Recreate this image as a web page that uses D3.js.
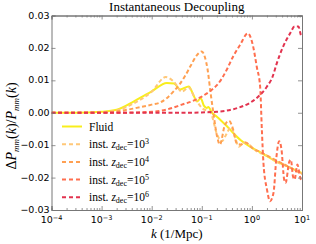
<!DOCTYPE html>
<html>
<head>
<meta charset="utf-8">
<script src="https://cdn.jsdelivr.net/npm/d3@7"></script>
<style>
  body { margin: 0; background: #fff; }
  svg { display: block; }
</style>
</head>
<body>
<div id="chart"></div>
<script>
// values (k in 1/Mpc, y = dP/P)
let fluid_k = [1e-4, 3e-4, 1e-3, 2e-3, 4.5e-3, 0.01, 0.02, 0.028, 0.037, 0.055, 0.065, 0.08, 0.095, 0.11, 0.125, 0.135, 0.16, 0.2, 0.3, 0.42, 0.6, 0.9, 1.4, 2, 3, 4.3, 6.5, 10]
let fluid_v = [0, 0, 0.0003, 0.0009, 0.0036, 0.0066, 0.0092, 0.009, 0.0072, 0.0081, 0.0062, 0.0035, 0.0045, 0.0022, 0.0015, 0.0018, 0, -0.0012, -0.0038, -0.0062, -0.0085, -0.0104, -0.012, -0.0134, -0.015, -0.016, -0.0173, -0.0186]

let dec3_k = [1e-4, 3e-4, 1e-3, 2e-3, 4.5e-3, 0.01, 0.019, 0.028, 0.04, 0.055, 0.07, 0.1, 0.15, 0.2, 0.25, 0.3, 0.38, 0.47, 0.55, 0.7, 0.9, 1.2, 2, 3, 5, 7, 10]
let dec3_v = [0, 0, 0.0002, 0.0007, 0.003, 0.0065, 0.011, 0.0095, 0.0065, 0.0078, 0.005, 0.0015, 0, -0.0065, -0.0088, -0.007, -0.0045, -0.008, -0.0105, -0.0092, -0.0100, -0.0117, -0.0132, -0.015, -0.0165, -0.0176, -0.0187]

let dec4_k = [1e-4, 1e-3, 2e-3, 5e-3, 0.01, 0.015, 0.02, 0.027, 0.035, 0.045, 0.06, 0.08, 0.1, 0.115, 0.13, 0.15, 0.17, 0.2, 0.23, 0.29, 0.35, 0.42, 0.5, 0.6, 0.75, 1, 1.5, 2.5, 4, 6, 10]
let dec4_v = [0, 0.0001, 0.0004, 0.0015, 0.0025, 0.0032, 0.0045, 0.0065, 0.0085, 0.011, 0.0145, 0.0178, 0.0189, 0.0172, 0.0135, 0.006, 0, -0.007, -0.0098, -0.0037, -0.0025, -0.005, -0.0095, -0.0098, -0.0092, -0.0108, -0.0122, -0.014, -0.0156, -0.017, -0.0189]

let dec5_k = [1e-4, 2e-3, 5e-3, 0.01, 0.02, 0.04, 0.07, 0.1, 0.15, 0.2, 0.25, 0.32, 0.42, 0.58, 0.83, 1.06, 1.25, 1.46, 1.58, 1.7, 2.0, 2.3, 2.7, 3.1, 3.5, 3.9, 4.4, 4.7, 5.6, 6.0, 6.6, 7.1, 8.1, 9.1, 9.5, 10]
let dec5_v = [0, 0, 0.0001, 0.0003, 0.001, 0.0025, 0.0038, 0.005, 0.0068, 0.0085, 0.0105, 0.0135, 0.0173, 0.0209, 0.0245, 0.0204, 0.0142, 0.0081, -0.0052, -0.0155, -0.0237, -0.0273, -0.0247, -0.0134, -0.0088, -0.0114, -0.0206, -0.0216, -0.015, -0.0145, -0.0196, -0.0206, -0.016, -0.0196, -0.0206, -0.021]

let dec6_k = [1e-4, 0.05, 0.1, 0.2, 0.3, 0.43, 0.6, 0.9, 1.3, 2.0, 2.6, 3.1, 4.2, 5.8, 7.1, 8.5, 9.5, 10]
let dec6_v = [0, 0, 0.0001, 0.0003, 0.0006, 0.0011, 0.0018, 0.003, 0.0048, 0.0081, 0.0112, 0.015, 0.0204, 0.0245, 0.0266, 0.0266, 0.024, 0.0235]

let series_names = ['Fluid', '10^3', '10^4', '10^5', '10^6']
let series_colors = ['#f8ee1c', '#ffc878', '#ffa052', '#ff6e4e', '#e2334f']

let x_ticks = [1e-4, 1e-3, 1e-2, 1e-1, 1, 10]
let x_tick_exp = ['-4', '-3', '-2', '-1', '0', '1']
let y_ticks = [0.03, 0.02, 0.01, 0, -0.01, -0.02, -0.03]

let series = [
    {name: series_names[0], k: fluid_k, v: fluid_v, color: series_colors[0], dash: null},
    {name: series_names[1], k: dec3_k, v: dec3_v, color: series_colors[1], dash: '4,2.5'},
    {name: series_names[2], k: dec4_k, v: dec4_v, color: series_colors[2], dash: '4,2.5'},
    {name: series_names[3], k: dec5_k, v: dec5_v, color: series_colors[3], dash: '4,2.5'},
    {name: series_names[4], k: dec6_k, v: dec6_v, color: series_colors[4], dash: '4,2.5'}
]

let width = 316, height = 244
let margins = {top: 15.5, bottom: 34, left: 51.5, right: 14}
let plotW = width - margins.left - margins.right
let plotH = height - margins.top - margins.bottom

let svg = d3.select('#chart')
    .append('svg')
        .attr('width', width)
        .attr('height', height)

let x = d3.scaleLog().domain([1e-4, 10]).range([0, plotW])
let y = d3.scaleLinear().domain([-0.03, 0.03]).range([plotH, 0])

let g = svg.append('g')
    .attr('transform', `translate(${margins.left},${margins.top})`)

let clip = svg.append('clipPath').attr('id', 'plot-clip')
clip.append('rect').attr('width', plotW).attr('height', plotH)

let line = d3.line()
    .x(d => x(d[0]))
    .y(d => y(d[1]))
    .curve(d3.curveMonotoneX)

let lines = g.append('g').attr('clip-path', 'url(#plot-clip)')
series.forEach(function(s){
    lines.append('path')
        .datum(s.k.map((k, i) => [k, s.v[i]]))
        .attr('d', line)
        .attr('fill', 'none')
        .attr('stroke', s.color)
        .attr('stroke-width', 2)
        .attr('stroke-dasharray', s.dash)
})

// minor ticks for log axis
let minor = []
for (let e = -4; e < 1; e++) {
    for (let m = 2; m < 10; m++) minor.push(m * Math.pow(10, e))
}

let axisColor = '#777'

//X-AXIS (bottom + top, inward ticks)
let xb = g.append('g')
    .attr('transform', `translate(0,${plotH})`)
    .call(d3.axisBottom(x).tickValues(x_ticks).tickSize(-4).tickFormat(''))
let xbm = g.append('g')
    .attr('transform', `translate(0,${plotH})`)
    .call(d3.axisBottom(x).tickValues(minor).tickSize(-2).tickFormat(''))
let xt = g.append('g')
    .call(d3.axisTop(x).tickValues(x_ticks).tickSize(-4).tickFormat(''))
let xtm = g.append('g')
    .call(d3.axisTop(x).tickValues(minor).tickSize(-2).tickFormat(''))

//Y-AXIS (left + right)
let yl = g.append('g')
    .call(d3.axisLeft(y).tickValues(y_ticks).tickSize(-4).tickFormat(''))
let yr = g.append('g')
    .attr('transform', `translate(${plotW},0)`)
    .call(d3.axisRight(y).tickValues(y_ticks).tickSize(-4).tickFormat(''))

;[xb, xbm, xt, xtm, yl, yr].forEach(function(a){
    a.selectAll('path').attr('stroke', axisColor).attr('stroke-width', 1)
    a.selectAll('line').attr('stroke', axisColor).attr('stroke-width', 0.8)
})

// y tick labels
g.append('g').selectAll('text')
    .data(y_ticks)
    .join('text')
        .attr('x', -2)
        .attr('y', d => y(d) + 3)
        .attr('text-anchor', 'end')
        .attr('font-family', 'DejaVu Sans')
        .attr('font-size', 9.5)
        .attr('fill', '#000')
        .text(d => d3.format('.2f')(d).replace('-', '\u2212'))

// x tick labels 10^n
let xl = g.append('g').selectAll('text')
    .data(x_ticks)
    .join('text')
        .attr('x', d => x(d))
        .attr('y', plotH + 13)
        .attr('text-anchor', 'middle')
        .attr('font-family', 'DejaVu Sans')
        .attr('font-size', 9.5)
        .attr('fill', '#000')
xl.append('tspan').text('10')
xl.append('tspan')
    .attr('dy', -3.5)
    .attr('font-size', 6.5)
    .text((d, i) => x_tick_exp[i].replace('-', '\u2212'))

// title
svg.append('text')
    .attr('x', margins.left + plotW / 2)
    .attr('y', 11)
    .attr('text-anchor', 'middle')
    .attr('font-family', 'Liberation Serif')
    .attr('font-size', 13)
    .text('Instantaneous Decoupling')

// x label
let xlab = svg.append('text')
    .attr('x', margins.left + plotW / 2)
    .attr('y', 238)
    .attr('text-anchor', 'middle')
    .attr('font-family', 'Liberation Serif')
    .attr('font-size', 13)
xlab.append('tspan').attr('font-style', 'italic').text('k')
xlab.append('tspan').text(' (1/Mpc)')

// y label
let ylab = svg.append('text')
    .attr('transform', 'translate(16,126) rotate(-90)')
    .attr('text-anchor', 'middle')
    .attr('font-family', 'Liberation Serif')
    .attr('font-size', 14)
ylab.append('tspan').text('\u0394')
ylab.append('tspan').attr('font-style', 'italic').text('P')
ylab.append('tspan').attr('font-style', 'italic').attr('font-size', 9).attr('dy', 3).text('mm')
ylab.append('tspan').attr('dy', -3).text('(')
ylab.append('tspan').attr('font-style', 'italic').text('k')
ylab.append('tspan').text(')/')
ylab.append('tspan').attr('font-style', 'italic').text('P')
ylab.append('tspan').attr('font-style', 'italic').attr('font-size', 9).attr('dy', 3).text('mm')
ylab.append('tspan').attr('dy', -3).text('(')
ylab.append('tspan').attr('font-style', 'italic').text('k')
ylab.append('tspan').text(')')

// legend
let legend = svg.append('g')
series.forEach(function(s, i){
    let ly = 126.5 + i * 17.7
    legend.append('line')
        .attr('x1', 62).attr('x2', 82)
        .attr('y1', ly).attr('y2', ly)
        .attr('stroke', s.color)
        .attr('stroke-width', 2)
        .attr('stroke-dasharray', s.dash ? '4,3' : null)
    let t = legend.append('text')
        .attr('x', 89)
        .attr('y', ly + 4)
        .attr('font-family', 'Liberation Serif')
        .attr('font-size', 11.5)
    if (i === 0) {
        t.text(s.name)
    } else {
        t.append('tspan').text('inst. ')
        t.append('tspan').attr('font-style', 'italic').text('z')
        t.append('tspan').attr('font-size', 8).attr('dy', 2).text('dec')
        t.append('tspan').attr('dy', -2).text('=10')
        t.append('tspan').attr('font-size', 8).attr('dy', -4).text(s.name.split('^')[1])
    }
})
</script>
</body>
</html>
